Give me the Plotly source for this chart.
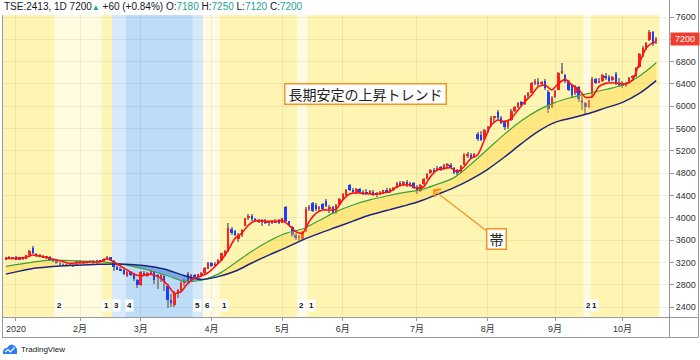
import plotly.graph_objects as go

# ---------------- data ----------------
first_bar = -3  # bar index of the first candle (index 0 = first trading day of 2020)
month_ticks = [0, 19, 37, 58, 79, 97, 119, 140, 160, 180]
month_labels = ['2020', '2月', '3月', '4月', '5月', '6月', '7月', '8月', '9月', '10月']

opens = [3260,3290,3270,3290,3260,3290,3270,3330,3450,3350,3310,3320,3290,3300,3240,
         3220,3190,3170,3150,3180,3150,3140,3220,3180,3210,3195,3230,3190,3240,
         3215,3270,3290,
         3230,3110,3080,3060,
         2960,3020,2990,2880,2790,3010,2960,3000,3040,2970,2920,2950,2780,2530,2440,2640,2700,2830,2990,2880,
         2980,2940,2990,3010,3090,3190,3140,3180,
         3240,3340,3400,3800,3760,3620,3700,3860,3990,4040,
         3970,3950,3930,3950,3900,3940,3920,3950,3910,4200,
         3940,3840,3700,3640,3620,3760,4160,4260,4230,4150,
         4250,4300,4160,4200,4090,4240,4330,4400,4580,4500,
         4450,4510,4470,4470,4430,4460,4400,4420,4430,4490,
         4460,4510,4540,4610,4590,4640,4580,4620,4560,4480,
         4600,4700,4800,4860,4840,4910,4870,4930,4950,4890,
         4850,4820,4950,5100,5120,5090,5500,5480,5420,5600,
         5640,5790,5900,5790,5720,5620,5760,5920,5990,6080,
         6040,6180,6240,6400,6440,6390,6460,6260,5980,6160,
         6300,6600,6560,6440,6380,6240,6350,6120,6060,5980,
         6150,6480,6430,6450,6550,6520,6470,6580,6420,6400,
         6370,6420,6500,6540,6700,6900,7020,7180,7330,7180]
highs = [3300,3310,3300,3310,3300,3300,3340,3420,3490,3370,3350,3340,3320,3310,3260,
         3240,3210,3190,3200,3190,3180,3240,3240,3220,3230,3240,3250,3250,3250,
         3280,3310,3300,
         3240,3150,3120,3080,
         3040,3040,3010,2900,3040,3040,3030,3060,3050,3000,3000,2980,2820,2640,2690,2720,2860,2900,3020,3000,
         3000,3000,3030,3110,3200,3210,3200,3260,
         3370,3420,3900,3830,3790,3720,3800,4000,4070,4060,
         3990,3980,3970,3970,3950,3960,3970,3980,4000,4220,
         3950,3850,3720,3690,3760,4200,4230,4280,4270,4220,
         4270,4330,4230,4220,4250,4350,4440,4520,4610,4540,
         4530,4530,4500,4520,4500,4490,4460,4480,4500,4530,
         4540,4560,4640,4660,4660,4670,4650,4640,4580,4600,
         4720,4810,4870,4900,4930,4930,4960,4990,4980,4910,
         4880,4950,5160,5180,5170,5160,5540,5560,5600,5640,
         5820,5830,5940,5820,5760,5740,5950,6000,6080,6100,
         6200,6260,6440,6480,6500,6460,6490,6290,6180,6300,
         6620,6770,6580,6470,6400,6380,6370,6180,6080,6120,
         6520,6510,6500,6580,6590,6560,6540,6620,6500,6450,
         6440,6520,6560,6700,6960,7080,7160,7360,7350,7250]
lows = [3250,3260,3255,3250,3240,3250,3260,3320,3350,3300,3290,3280,3270,3230,3200,
        3180,3160,3130,3140,3140,3120,3130,3170,3170,3180,3190,3180,3180,3200,
        3210,3260,3240,
        3040,3060,3040,2980,
        2930,2960,2870,2750,2780,2950,2940,2980,2820,2720,2840,2680,2380,2400,2400,2560,2660,2780,2820,2860,
        2920,2920,2960,3000,3080,3120,3130,3170,
        3230,3320,3390,3700,3680,3560,3660,3850,3960,3950,
        3920,3900,3860,3880,3850,3880,3900,3890,3900,3920,
        3850,3660,3600,3590,3600,3750,4120,4110,4120,4120,
        4140,4200,4080,4060,4070,4230,4320,4380,4480,4440,
        4430,4440,4410,4410,4420,4390,4380,4400,4420,4440,
        4450,4480,4530,4570,4580,4560,4560,4520,4420,4460,
        4590,4690,4780,4810,4830,4840,4860,4900,4890,4780,
        4770,4800,4940,5080,5060,5070,5380,5370,5400,5520,
        5620,5720,5760,5680,5580,5600,5740,5900,5960,6000,
        6020,6150,6230,6380,6360,6370,6300,5870,5960,6150,
        6290,6580,6420,6280,6150,6200,6080,5940,5840,5960,
        6140,6400,6410,6430,6470,6440,6450,6380,6340,6330,
        6340,6400,6450,6520,6690,6880,7000,7170,7080,7120]
closes = [3290,3270,3295,3260,3290,3265,3330,3400,3360,3310,3330,3290,3300,3240,3220,
          3190,3170,3150,3180,3150,3140,3220,3180,3210,3195,3230,3190,3240,3215,
          3270,3290,3250,
          3110,3080,3060,3000,
          3020,2980,2900,2790,3020,2960,3010,3040,2880,2930,2980,2870,2520,2470,2660,2700,2830,2870,2850,2980,
          2940,2990,3010,3100,3190,3140,3180,3250,
          3360,3400,3820,3730,3700,3690,3790,3990,4040,3970,
          3950,3930,3950,3900,3940,3920,3950,3910,3990,3940,
          3870,3700,3640,3660,3740,4160,4200,4130,4150,4200,
          4160,4220,4200,4090,4230,4330,4420,4490,4500,4460,
          4510,4460,4430,4440,4480,4410,4440,4450,4490,4470,
          4520,4540,4620,4600,4640,4580,4620,4540,4480,4580,
          4700,4790,4850,4830,4900,4860,4940,4960,4910,4800,
          4820,4930,5130,5150,5080,5140,5420,5400,5580,5620,
          5790,5810,5790,5700,5620,5730,5920,5980,6060,6020,
          6180,6230,6410,6450,6390,6430,6330,5950,6150,6280,
          6600,6640,6460,6300,6200,6350,6130,6050,5990,6110,
          6480,6420,6460,6560,6500,6460,6520,6420,6380,6360,
          6420,6500,6540,6680,6940,7050,7130,7330,7120,7200]

# short moving average (red line), read at sample bars
red_x = [-3, 0, 3, 5, 7, 10, 13, 16, 19, 22, 25, 27, 29, 31, 33, 35, 37, 39, 41, 43, 45, 47, 49, 51,
         53, 55, 57, 59, 61, 63, 65, 67, 69, 71, 73, 75, 77, 79, 81, 83, 85, 87, 89, 91, 93, 95, 97, 99,
         101, 103, 105, 107, 109, 111, 113, 115, 117, 119, 121, 123, 125, 127, 129, 131, 133, 135, 137,
         139, 141, 143, 145, 147, 149, 151, 153, 155, 157, 159, 161, 163, 165, 167, 169, 171, 173, 175,
         177, 179, 181, 183, 185, 187, 189, 190]
red_v = [3272, 3272, 3290, 3332, 3314, 3272, 3230, 3183, 3201, 3207, 3213, 3260, 3213, 3135, 3063,
         2992, 2956, 2986, 2974, 2914, 2794, 2645, 2675, 2824, 2914, 2956, 3015, 3123, 3243, 3422, 3631,
         3721, 3870, 3948, 3942, 3936, 3936, 3948, 3870, 3751, 3721, 3930, 4079, 4139, 4140, 4151, 4319,
         4426, 4450, 4438, 4426, 4426, 4450, 4468, 4557, 4587, 4587, 4528, 4557, 4737, 4856, 4886, 4898,
         4826, 4916, 5066, 5125, 5394, 5663, 5753, 5723, 5783, 5932, 6082, 6201, 6351, 6380, 6291, 6410,
         6482, 6380, 6303, 6159, 6171, 6351, 6410, 6422, 6410, 6398, 6470, 6769, 7038, 7140, 7158]

# middle (green) and long (navy) moving averages, read every 5 bars
ma_x = [-3, 0, 5, 10, 15, 20, 25, 30, 35, 40, 45, 50, 55, 60, 65, 70, 75, 80, 85, 90, 95, 100,
        105, 110, 115, 120, 125, 130, 135, 140, 145, 150, 155, 160, 165, 170, 175, 180, 185, 190]
green_v = [3130, 3160, 3205, 3240, 3235, 3222, 3215, 3180, 3125, 3050, 2960, 2860, 2880, 2990,
           3190, 3400, 3580, 3720, 3800, 3950, 4110, 4230, 4320, 4390, 4450, 4500, 4600, 4720,
           4960, 5230, 5500, 5740, 5930, 6070, 6160, 6230, 6300, 6380, 6540, 6780]
navy_v = [2990, 3030, 3090, 3120, 3140, 3155, 3165, 3172, 3158, 3125, 3065, 2960, 2895, 2945,
          3040, 3190, 3330, 3460, 3600, 3720, 3830, 3940, 4050, 4130, 4210, 4300, 4420, 4540,
          4690, 4870, 5090, 5330, 5550, 5710, 5790, 5870, 5970, 6070, 6230, 6460]

# trend phase (background colour) changes: first bar of each phase and its number
phase_starts = [-3, 12, 26, 29, 33, 53, 56, 61, 84, 87, 169, 171]
phase_ids = [1, 2, 1, 3, 4, 5, 6, 1, 2, 1, 2, 1]

y_ticks = [2400, 2800, 3200, 3600, 4000, 4400, 4800, 5200, 5600, 6000, 6400, 6800, 7200, 7600]
last_price = 7200

# ---------------- styling ----------------
phase_colors = {1: '#FFF5B3', 2: '#FFFBE0', 3: '#D6EAFB', 4: '#BDDCF7', 5: '#D6EAFB', 6: '#FFFBE0'}
UP, DOWN, WICK = '#FF1E1E', '#1E3CFF', '#8C8C8C'
TEAL = '#22A394'
ORANGE = '#F7931E'
FONT = 'Liberation Sans, Noto Sans CJK JP, sans-serif'
JFONT = 'Noto Sans CJK JP, sans-serif'

W, H = 700, 360
ML, MR, MT, MB = 2, 31, 15, 43
PW, PH = W - ML - MR, H - MT - MB


def pxx(px):
    return (px - ML) / PW


def pxy(py):
    return (H - MB - py) / PH


bars = list(range(first_bar, first_bar + len(closes)))
body_base = [min(o, c) for o, c in zip(opens, closes)]
body_h = [abs(c - o) for o, c in zip(opens, closes)]
body_col = [UP if c >= o else DOWN for o, c in zip(opens, closes)]
wick_h = [h - l for h, l in zip(highs, lows)]
band_top = [max(g, n) for g, n in zip(green_v, navy_v)]

fig = go.Figure()
# wicks
fig.add_trace(go.Bar(x=bars, y=wick_h, base=lows, width=0.3, marker=dict(color=WICK, line=dict(width=0)),
                     hoverinfo='skip', showlegend=False))
# bodies
fig.add_trace(go.Bar(x=bars, y=body_h, base=body_base, width=0.72,
                     marker=dict(color=body_col, line=dict(width=0)), hoverinfo='skip', showlegend=False))
# band fill: yellow where green above navy, blue where navy above green
fig.add_trace(go.Scatter(x=ma_x, y=navy_v, mode='lines', line=dict(width=0, shape='spline'),
                         hoverinfo='skip', showlegend=False))
fig.add_trace(go.Scatter(x=ma_x, y=band_top, mode='lines', line=dict(width=0, shape='spline'),
                         fill='tonexty', fillcolor='rgba(255,210,50,0.38)', hoverinfo='skip', showlegend=False))
fig.add_trace(go.Scatter(x=ma_x, y=green_v, mode='lines', line=dict(width=0, shape='spline'),
                         hoverinfo='skip', showlegend=False))
fig.add_trace(go.Scatter(x=ma_x, y=band_top, mode='lines', line=dict(width=0, shape='spline'),
                         fill='tonexty', fillcolor='rgba(30,100,200,0.42)', hoverinfo='skip', showlegend=False))
# MA lines
fig.add_trace(go.Scatter(x=ma_x, y=green_v, mode='lines', line=dict(color='#3AA03A', width=1.2, shape='spline'),
                         hoverinfo='skip', showlegend=False))
fig.add_trace(go.Scatter(x=ma_x, y=navy_v, mode='lines', line=dict(color='#1C2480', width=1.5, shape='spline'),
                         hoverinfo='skip', showlegend=False))
fig.add_trace(go.Scatter(x=red_x, y=red_v, mode='lines',
                         line=dict(color='#FF1010', width=1.6, shape='spline', smoothing=0.6),
                         hoverinfo='skip', showlegend=False))

shapes = []
band_end = bars[-1] + 1.0
for k, s in enumerate(phase_starts):
    x0 = s - 0.5 if k > 0 else -4.3
    x1 = phase_starts[k + 1] - 0.5 if k + 1 < len(phase_starts) else band_end
    shapes.append(dict(type='rect', xref='x', yref='paper', x0=x0, x1=x1, y0=0, y1=1,
                       fillcolor=phase_colors[phase_ids[k]], line=dict(width=0), layer='below'))

FRAME = '#9A9A9A'


def hline(py, px0, px1):
    return dict(type='line', xref='paper', yref='paper', x0=pxx(px0), x1=pxx(px1), y0=pxy(py), y1=pxy(py),
                line=dict(color=FRAME, width=1))


def vline(px, py0, py1):
    return dict(type='line', xref='paper', yref='paper', x0=pxx(px), x1=pxx(px), y0=pxy(py0), y1=pxy(py1),
                line=dict(color=FRAME, width=1))


shapes += [hline(317.5, 2, 698.5), hline(337.5, 2, 698.5), vline(669.5, 0, 337.5), vline(2.5, 15, 337.5),
           vline(698.5, 0, 337.5)]


# TradingView logo icon (simple cloud)
def path_px(pts):
    return 'M ' + ' L '.join(f'{pxx(a):.5f},{pxy(b):.5f}' for a, b in pts) + ' Z'


shapes.append(dict(type='path', xref='paper', yref='paper',
                   path=path_px([(3, 354), (3, 351), (4.5, 348.5), (7, 348), (9, 345.5), (12, 344.5),
                                 (15, 346), (17, 349), (17, 354)]),
                   fillcolor='#2E7CF6', line=dict(width=0)))
shapes.append(dict(type='path', xref='paper', yref='paper',
                   path=f'M {pxx(5):.5f},{pxy(352):.5f} L {pxx(8):.5f},{pxy(349.5):.5f} '
                        f'L {pxx(10.5):.5f},{pxy(352):.5f} L {pxx(14.5):.5f},{pxy(347.5):.5f}',
                   line=dict(color='white', width=1.2)))

annotations = []
header = ('TSE:2413, 1D 7200<span style="color:%s;font-size:8px">▲</span> +60 (+0.84%%) '
          'O:<span style="color:%s">7180</span> H:<span style="color:%s">7250</span> '
          'L:<span style="color:%s">7120</span> C:<span style="color:%s">7200</span>'
          % (TEAL, TEAL, TEAL, TEAL, TEAL))
annotations.append(dict(xref='paper', yref='paper', x=0, y=pxy(6.5), xanchor='left', yanchor='middle',
                        text=header, showarrow=False, font=dict(family=FONT, size=10, color='#131722')))

for k, s in enumerate(phase_starts):
    if k == 0:
        continue
    annotations.append(dict(xref='x', yref='paper', x=s - 0.5, y=pxy(305), xanchor='left', yanchor='middle',
                            text=f'<b>{phase_ids[k]}</b>', showarrow=False, bgcolor='white', borderpad=1,
                            font=dict(family=FONT, size=8, color='#111')))

annotations.append(dict(xref='x', yref='y', x=103.6, y=6228, text='長期安定の上昇トレンド', showarrow=False,
                        font=dict(family=JFONT, size=14, color='#222'), bgcolor='white',
                        bordercolor=ORANGE, borderwidth=1.5, borderpad=1, width=158, height=17))
annotations.append(dict(xref='x', yref='y', x=123.7, y=4511, axref='x', ayref='y', ax=142.6, ay=3628,
                        text='帯', showarrow=True, arrowhead=4, arrowsize=1.6, arrowwidth=1.2,
                        arrowcolor=ORANGE, font=dict(family=JFONT, size=14, color='#222'), bgcolor='white',
                        bordercolor=ORANGE, borderwidth=1.5, borderpad=1, width=16, height=17))
annotations.append(dict(xref='paper', yref='y', x=1, y=last_price, xanchor='left', yanchor='middle', xshift=1,
                        text=str(last_price), showarrow=False, bgcolor='#F23B2F', borderpad=1, width=26,
                        height=10, font=dict(family=FONT, size=9, color='white')))
annotations.append(dict(xref='paper', yref='paper', x=pxx(19), y=pxy(349), xanchor='left', yanchor='middle',
                        text='TradingView', showarrow=False, font=dict(family=FONT, size=8, color='#131722')))

fig.update_layout(
    width=W, height=H, margin=dict(l=ML, r=MR, t=MT, b=MB),
    paper_bgcolor='white', plot_bgcolor='white', barmode='overlay', bargap=0,
    shapes=shapes, annotations=annotations, showlegend=False,
    xaxis=dict(range=[-4.15, 193.8], tickvals=month_ticks, ticktext=month_labels, showgrid=True,
               gridcolor='rgba(0,0,0,0.06)', zeroline=False, showline=False, ticks='outside', ticklen=3,
               tickcolor=FRAME, tickfont=dict(family=FONT, size=9, color='#333')),
    yaxis=dict(range=[2221, 7636], side='right', tickvals=y_ticks, showgrid=True,
               gridcolor='rgba(0,0,0,0.06)', zeroline=False, showline=False, ticks='outside', ticklen=4,
               tickcolor=FRAME, tickfont=dict(family=FONT, size=9, color='#333')),
)

fig.write_html('out.html', config={'displayModeBar': False},
               post_script="document.body.style.margin='0';document.body.style.padding='0';")
